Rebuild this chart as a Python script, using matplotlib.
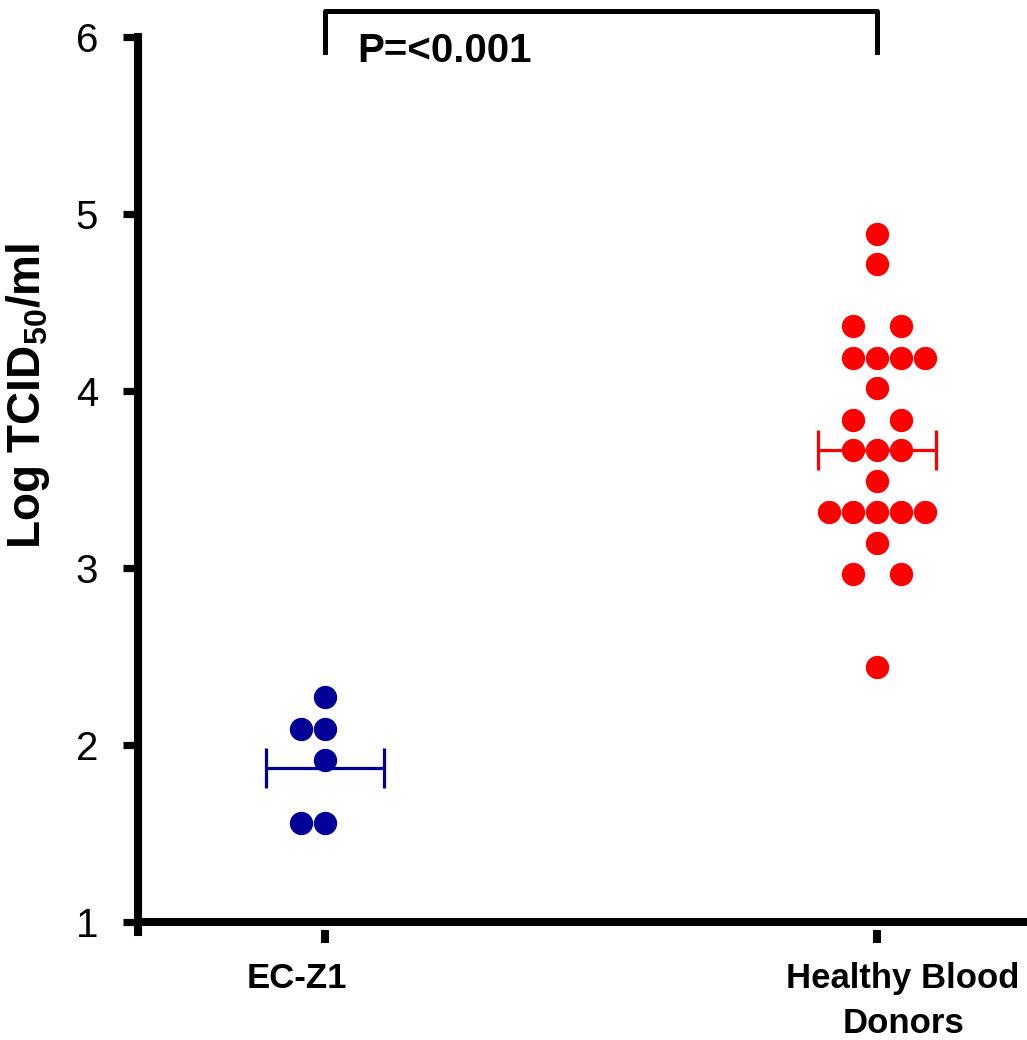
import matplotlib
matplotlib.use("Agg")
import matplotlib.pyplot as plt
import matplotlib.transforms as mtransforms
import numpy as np

plt.rcParams["font.family"] = "Liberation Sans"
plt.rcParams["mathtext.fontset"] = "custom"
plt.rcParams["mathtext.rm"] = "Liberation Sans:bold"
plt.rcParams["mathtext.default"] = "rm"

# groups
groups = ["EC-Z1", "Healthy Blood\nDonors"]
colors = ["#000099", "#ff0000"]

# Log TCID50/ml values, with the swarm column each dot sits in
ec_values = [2.27, 2.09, 2.09, 1.915, 1.56, 1.56]
ec_slots = [0, -1, 0, 0, -1, 0]

hbd_values = [4.89, 4.72,
              4.37, 4.37,
              4.19, 4.19, 4.19, 4.19,
              4.02,
              3.84, 3.84,
              3.67, 3.67, 3.67,
              3.49,
              3.315, 3.315, 3.315, 3.315, 3.315,
              3.14,
              2.965, 2.965,
              2.44]
hbd_slots = [0, 0,
             -1, 1,
             -1, 0, 1, 2,
             0,
             -1, 1,
             -1, 0, 1,
             0,
             -2, -1, 0, 1, 2,
             0,
             -1, 1,
             0]

means = [1.87, 3.67]
p_text = "P=<0.001"

fig = plt.figure(figsize=(10.27, 10.40), dpi=100)
ax = fig.add_axes([0.1339, 0.1135, 0.8661, 0.8505])
ax.set_xlim(-0.3397, 1.2717)
ax.set_ylim(1, 6)

step = 0.0435  # one dot width in x units
for i, (vals, slots) in enumerate([(ec_values, ec_slots), (hbd_values, hbd_slots)]):
    xs = i + np.array(slots) * step
    ax.plot(xs, vals, "o", ls="none", ms=16.8, color=colors[i], mec="none",
            clip_on=False, zorder=3)
    ax.errorbar(i, means[i], xerr=0.107, color=colors[i], lw=2.3, capsize=14.5,
                capthick=2.3, zorder=4)

# axes styling
for s in ["top", "right"]:
    ax.spines[s].set_visible(False)
ax.spines["left"].set_linewidth(5.8)
ax.spines["bottom"].set_linewidth(5.8)
ax.spines["left"].set_bounds(0.943, 6)

ax.set_yticks([1, 2, 3, 4, 5, 6])
ax.tick_params(axis="y", direction="out", length=10.5, width=5.2, pad=18,
               labelsize=29)

ax.set_xticks([0, 1])
ax.set_xticklabels(groups, fontsize=25, fontweight="bold", linespacing=1.45)
ax.tick_params(axis="x", length=0, pad=29)
shifts = [-0.28, 0.26]
for lab, dx in zip(ax.get_xticklabels(), shifts):
    lab.set_transform(lab.get_transform() +
                      mtransforms.ScaledTranslation(dx, 0, fig.dpi_scale_trans))

# detached tick marks under the x axis
trans = mtransforms.blended_transform_factory(ax.transData, ax.transAxes)
for pos in [0, 1]:
    ax.plot([pos, pos], [-0.009, -0.0237], transform=trans, color="black",
            lw=5.8, solid_capstyle="butt", clip_on=False)

# significance bracket
ax.plot([0, 0, 1, 1], [5.915, 6.147, 6.147, 5.915], color="black", lw=3.6,
        clip_on=False)
ax.text(0.058, 5.86, p_text, fontsize=29, fontweight="bold", ha="left",
        va="baseline")

fig.text(28 / 1027, 1 - 396 / 1040, r"Log TCID$_{50}$/ml", rotation=90,
         fontsize=33, fontweight="bold", ha="center", va="center")

fig.savefig("out.png", dpi=100)
